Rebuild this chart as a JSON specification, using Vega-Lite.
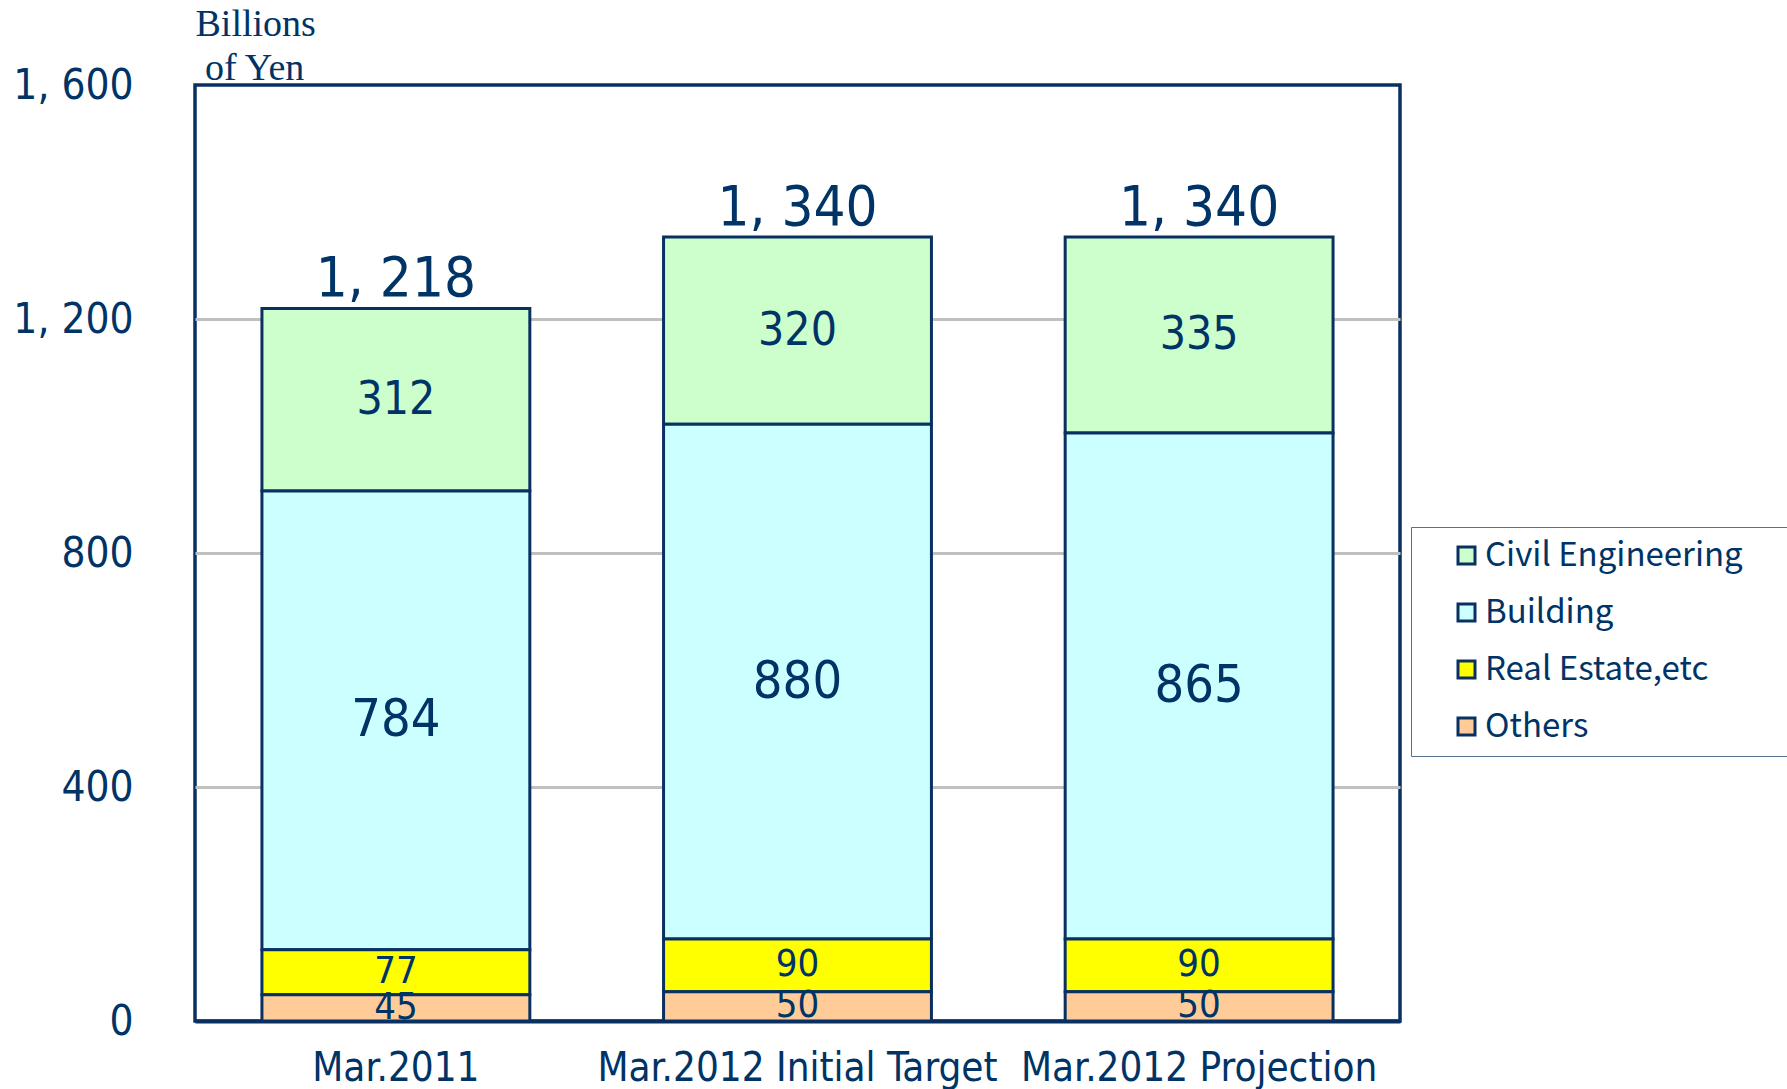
{
  "$schema": "https://vega.github.io/schema/vega-lite/v6.json",
  "width": 1205,
  "height": 936,
  "autosize": {"type": "none"},
  "padding": {"left": 195, "top": 85, "right": 387, "bottom": 68},
  "background": "white",
  "config": {
    "view": {"stroke": "#0a3062", "strokeWidth": 3.5},
    "font": "DejaVu Sans Condensed, DejaVu Sans, sans-serif"
  },
  "data": {
    "values": [
      {"Period": "Mar.2011", "Segment": "Civil Engineering", "Value": 312},
      {"Period": "Mar.2011", "Segment": "Building", "Value": 784},
      {"Period": "Mar.2011", "Segment": "Real Estate,etc", "Value": 77},
      {"Period": "Mar.2011", "Segment": "Others", "Value": 45},
      {"Period": "Mar.2012 Initial Target", "Segment": "Civil Engineering", "Value": 320},
      {"Period": "Mar.2012 Initial Target", "Segment": "Building", "Value": 880},
      {"Period": "Mar.2012 Initial Target", "Segment": "Real Estate,etc", "Value": 90},
      {"Period": "Mar.2012 Initial Target", "Segment": "Others", "Value": 50},
      {"Period": "Mar.2012 Projection", "Segment": "Civil Engineering", "Value": 335},
      {"Period": "Mar.2012 Projection", "Segment": "Building", "Value": 865},
      {"Period": "Mar.2012 Projection", "Segment": "Real Estate,etc", "Value": 90},
      {"Period": "Mar.2012 Projection", "Segment": "Others", "Value": 50}
    ]
  },
  "transform": [
    {"calculate": "indexof(['Others', 'Real Estate,etc', 'Building', 'Civil Engineering'], datum.Segment)", "as": "StackRank"}
  ],
  "encoding": {
    "x": {
      "field": "Period",
      "type": "nominal",
      "sort": ["Mar.2011", "Mar.2012 Initial Target", "Mar.2012 Projection"],
      "scale": {"paddingInner": 0.333, "paddingOuter": 0.1667},
      "axis": {
        "title": null,
        "labelAngle": 0,
        "labelFont": "DejaVu Sans Condensed, DejaVu Sans, sans-serif",
        "labelFontSize": 40,
        "labelColor": "#003366",
        "labelPadding": 27,
        "labelLimit": 0,
        "domainColor": "#0a3062",
        "domainWidth": 4,
        "ticks": false,
        "grid": false
      }
    }
  },
  "layer": [
    {
      "mark": {"type": "bar", "stroke": "#0a3062", "strokeWidth": 3, "width": {"band": 1}},
      "encoding": {
        "y": {
          "field": "Value",
          "type": "quantitative",
          "stack": "zero",
          "scale": {"domain": [0, 1600], "nice": false},
          "axis": {
            "values": [0, 400, 800, 1200, 1600],
            "format": ",d",
            "labelExpr": "replace(datum.label, ',', ', ')",
            "labelFont": "DejaVu Sans Condensed, DejaVu Sans, sans-serif",
            "labelFontSize": 42,
            "labelColor": "#003366",
            "labelPadding": 62,
            "ticks": false,
            "domain": false,
            "grid": true,
            "gridColor": {"condition": {"test": "datum.value == 0 || datum.value == 1600", "value": "transparent"}, "value": "#c0c0c0"},
            "gridWidth": 3,
            "title": ["Billions", "\u200b\u00a0of Yen"],
            "titleAngle": 0,
            "titleAlign": "left",
            "titleBaseline": "alphabetic",
            "titleX": 0,
            "titleY": -50,
            "titleLineHeight": 44,
            "titleFont": "Liberation Serif, DejaVu Serif, serif",
            "titleFontSize": 38,
            "titleFontWeight": "normal",
            "titleColor": "#003366"
          }
        },
        "order": {"field": "StackRank", "type": "quantitative", "sort": "ascending"},
        "color": {
          "field": "Segment",
          "type": "nominal",
          "scale": {"domain": ["Civil Engineering", "Building", "Real Estate,etc", "Others"], "range": ["#ccffcc", "#ccffff", "#ffff00", "#ffcc99"]},
          "legend": {
            "title": null,
            "orient": "none",
            "legendX": 1216,
            "legendY": 442,
            "padding": 12,
            "strokeColor": "#5a7090",
            "fillColor": "white",
            "symbolType": "square",
            "symbolSize": 289,
            "symbolStrokeColor": "#0a3062",
            "symbolStrokeWidth": 3,
            "symbolOffset": 27,
            "labelOffset": 2,
            "labelFont": "Noto Sans CJK JP, Noto Sans, sans-serif",
            "labelFontSize": 33,
            "labelColor": "#003366",
            "labelExpr": "datum.label + '\u00a0\u2800'",
            "labelLimit": 500,
            "rowPadding": 23
          }
        }
      }
    },
    {
      "mark": {
        "type": "text",
        "baseline": "middle",
        "align": "center",
        "color": "#003366",
        "font": "DejaVu Sans Condensed, DejaVu Sans, sans-serif",
        "fontSize": {"expr": "datum.Segment == 'Building' ? 52 : datum.Segment == 'Civil Engineering' ? 46 : 38"}
      },
      "encoding": {
        "y": {"field": "Value", "type": "quantitative", "stack": "zero", "bandPosition": 0.5},
        "order": {"field": "StackRank", "type": "quantitative", "sort": "ascending"},
        "detail": {"field": "Segment", "type": "nominal"},
        "text": {"field": "Value", "type": "quantitative"}
      }
    },
    {
      "transform": [{"aggregate": [{"op": "sum", "field": "Value", "as": "Total"}], "groupby": ["Period"]}],
      "mark": {
        "type": "text",
        "baseline": "alphabetic",
        "align": "center",
        "dy": -12,
        "fontSize": 56,
        "color": "#003366",
        "font": "DejaVu Sans Condensed, DejaVu Sans, sans-serif",
        "text": {"expr": "replace(format(datum.Total, ',d'), ',', ', ')"}
      },
      "encoding": {
        "y": {"field": "Total", "type": "quantitative"}
      }
    }
  ]
}
